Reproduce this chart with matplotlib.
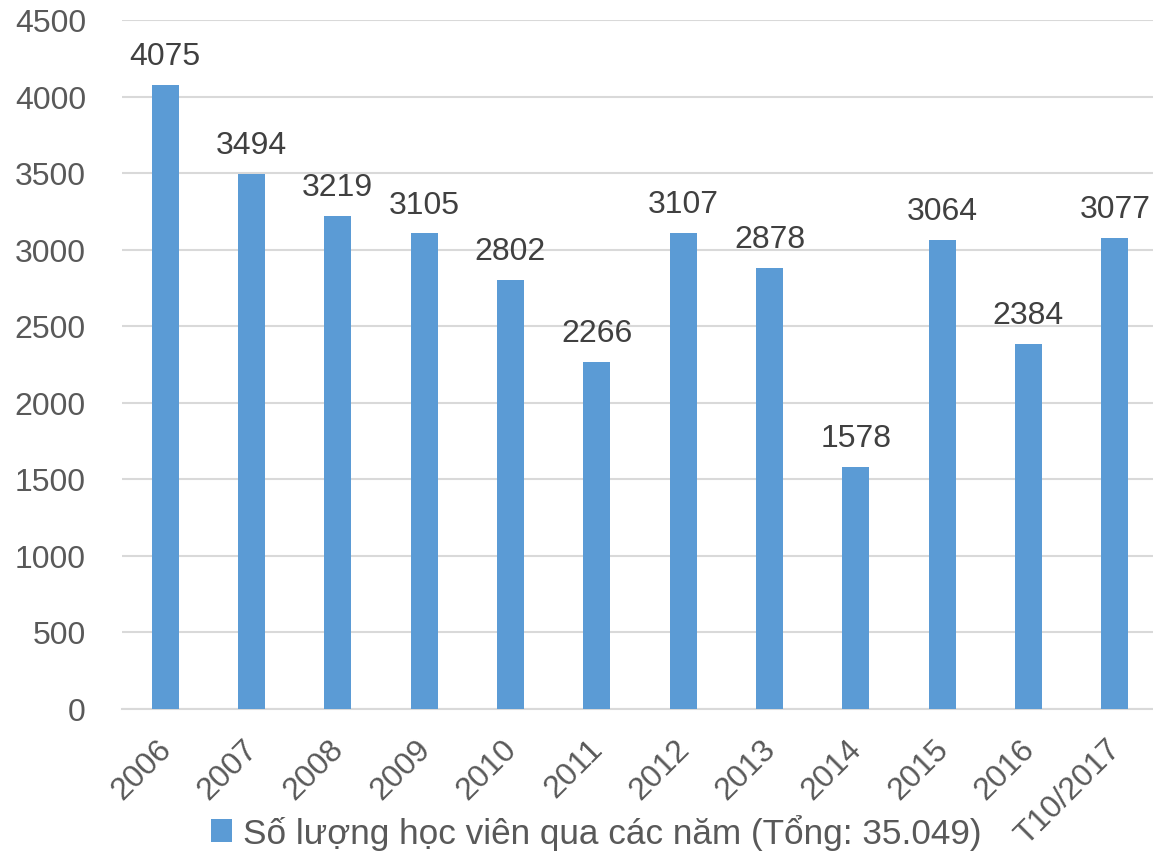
import matplotlib
matplotlib.use("Agg")
import matplotlib.pyplot as plt
import matplotlib.transforms as mtransforms
from matplotlib.patches import Patch

categories = ["2006", "2007", "2008", "2009", "2010", "2011", "2012", "2013",
              "2014", "2015", "2016", "T10/2017"]
values = [4075, 3494, 3219, 3105, 2802, 2266, 3107, 2878, 1578, 3064, 2384, 3077]
yticks = [0, 500, 1000, 1500, 2000, 2500, 3000, 3500, 4000, 4500]
legend_label = "Số lượng học viên qua các năm (Tổng: 35.049)"

plt.rcParams['font.family'] = ['Liberation Sans', 'DejaVu Sans']

W, H = 1153, 853
fig = plt.figure(figsize=(W / 100, H / 100), dpi=100)
left, right, top, bottom = 122, 1158, 21, 709.5
ax = fig.add_axes([left / W, 1 - bottom / H, (right - left) / W, (bottom - top) / H])

bar_color = "#5B9BD5"
x = list(range(len(categories)))
bars = ax.bar(x, values, width=0.316, color=bar_color, zorder=3)

for xi, v in zip(x, values):
    ax.annotate(str(v), (xi, v), xytext=(0, 15), textcoords="offset points",
                ha="center", va="baseline", fontsize=23, color="#404040")

ax.set_xlim(-0.5, len(categories) - 0.5)
ax.set_ylim(0, 4500)
ax.set_yticks(yticks)
ax.set_yticklabels([str(t) for t in yticks])
ax.yaxis.grid(True, color="#D9D9D9", linewidth=1.5, zorder=0)
ax.set_axisbelow(True)
for s in ["top", "right", "left"]:
    ax.spines[s].set_visible(False)
ax.spines["bottom"].set_color("#D9D9D9")
ax.spines["bottom"].set_linewidth(1.5)

ax.tick_params(axis="y", length=0, pad=26, labelsize=23, labelcolor="#595959")
ax.tick_params(axis="x", length=0, pad=8, labelsize=23, labelcolor="#595959")
ax.set_xticks(x)
ax.set_xticklabels(categories, rotation=45, ha="right", rotation_mode="anchor")
offset = mtransforms.ScaledTranslation(-9 / 100, -14 / 100, fig.dpi_scale_trans)
for lbl in ax.get_xticklabels():
    lbl.set_transform(lbl.get_transform() + offset)

fig.legend(handles=[Patch(facecolor=bar_color, edgecolor="none")], labels=[legend_label],
           loc="center", bbox_to_anchor=(596 / W, 1 - 833 / H), frameon=False,
           fontsize=25.3, labelcolor="#595959", handlelength=0.6, handleheight=0.6,
           handletextpad=0.3, borderpad=0)

fig.savefig("out.png", dpi=100)
